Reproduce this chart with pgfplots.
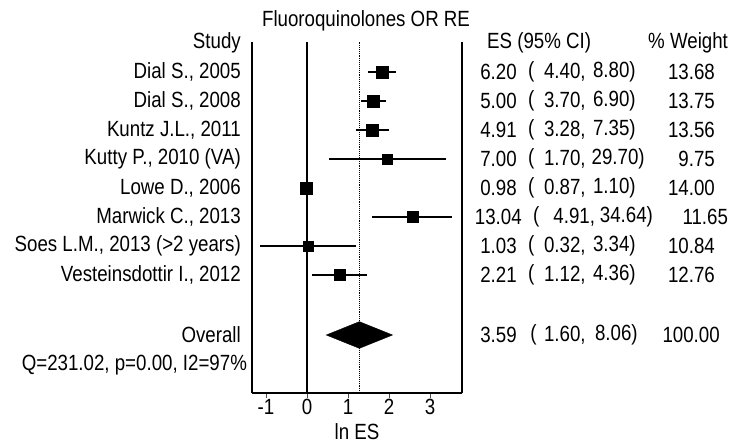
\documentclass[border=0pt]{standalone}
\usepackage{fontspec}
\setmainfont{Liberation Sans}[FakeStretch=0.85]
\usepackage{pgfplots}
\pgfplotsset{compat=1.18}
\usepackage{pgfplotstable}
\newcommand{\cf}{\fontsize{22bp}{25bp}\selectfont}

% row (negative), ln ES, minus, plus, weight
\pgfplotstableread{
r es em ep w
-1 1.825 0.343 0.350 13.68
-2 1.609 0.301 0.323 13.75
-3 1.591 0.403 0.404 13.56
-4 1.946 1.415 1.445 9.75
-5 -0.020 0.119 0.115 14.00
-6 2.568 0.977 0.977 11.65
-7 0.030 1.169 1.176 10.84
-8 0.793 0.680 0.679 12.76
}\studies

\begin{document}
\begin{tikzpicture}
\begin{axis}[
  scale only axis, width=210bp, height=351bp,
  xmin=-1.341, xmax=3.780, ymin=-12.07, ymax=0.034,
  axis x line*=bottom, axis y line*=box,
  axis line style={line width=1.8bp, black},
  ytick=\empty,
  xtick={-1,0,1,2,3},
  tick align=outside, major tick length=5bp,
  x tick style={black!70, line width=0.8bp},
  ticklabel style={font=\cf},
  /pgf/number format/assume math mode=true,
  xticklabel style={inner sep=1bp, yshift=0bp},
  xlabel={ln ES},
  xlabel style={font=\cf, inner sep=0pt, at={(axis description cs:0.5,0)}, anchor=center, yshift=-38.5bp},
  clip=false,
]
% reference lines
\addplot[black, line width=1.2bp] coordinates {(0,-12.07) (0,0.034)};
\addplot[black, line width=0.9bp, densely dotted] coordinates {(1.278,-12.07) (1.278,0.034)};
% studies
\addplot[scatter, only marks, mark=square*,
  scatter/use mapped color={draw=black, fill=black},
  visualization depends on={1.6*sqrt(\thisrow{w}) \as \msize},
  scatter/@pre marker code/.append style={/tikz/mark size=\msize bp},
  error bars/.cd, x dir=both, x explicit,
  error mark=none,
  error bar style={line width=1.8bp, black}]
  table[x=es, y=r, x error minus=em, x error plus=ep] {\studies};
% overall diamond
\addplot[fill=black, draw=black] coordinates {(0.470,-10.07) (1.278,-9.61) (2.087,-10.07) (1.278,-10.53)} -- cycle;

% title
\node[font=\cf] at (axis cs:1.44,0.76) {Fluoroquinolones OR RE};
% left labels
\begin{scope}[every node/.style={font=\cf, anchor=east, inner sep=0pt}]
\node at (axis cs:-1.61,0) {Study};
\node at (axis cs:-1.61,-1) {Dial S., 2005};
\node at (axis cs:-1.61,-2) {Dial S., 2008};
\node at (axis cs:-1.61,-3) {Kuntz J.L., 2011};
\node at (axis cs:-1.61,-4) {Kutty P., 2010 (VA)};
\node at (axis cs:-1.61,-5) {Lowe D., 2006};
\node at (axis cs:-1.61,-6) {Marwick C., 2013};
\node at (axis cs:-1.61,-7) {Soes L.M., 2013 (>2 years)};
\node at (axis cs:-1.61,-8) {Vesteinsdottir I., 2012};
\node at (axis cs:-1.61,-10.07) {Overall};
\node at (axis cs:-1.46,-11.1) {Q=231.02, p=0.00, I2=97\%};
\end{scope}
% right columns
\begin{scope}[every node/.style={font=\cf, inner sep=0pt}]
\node[anchor=west] at (axis cs:4.39,0) {ES (95\% CI)};
\node[anchor=east] at (axis cs:10.27,0) {\% Weight};
\end{scope}
\begin{scope}[every node/.style={font=\cf, inner sep=0pt}]
% row 1
\node[anchor=east] at (axis cs:5.12,-1) {6.20};
\node[anchor=west] at (axis cs:5.39,-1) {(};
\node[anchor=east] at (axis cs:6.80,-1) {4.40,};
\node[anchor=east] at (axis cs:8.02,-1) {8.80)};
\node[anchor=east] at (axis cs:9.95,-1) {13.68};
% row 2
\node[anchor=east] at (axis cs:5.12,-2) {5.00};
\node[anchor=west] at (axis cs:5.39,-2) {(};
\node[anchor=east] at (axis cs:6.80,-2) {3.70,};
\node[anchor=east] at (axis cs:8.02,-2) {6.90)};
\node[anchor=east] at (axis cs:9.95,-2) {13.75};
% row 3
\node[anchor=east] at (axis cs:5.12,-3) {4.91};
\node[anchor=west] at (axis cs:5.39,-3) {(};
\node[anchor=east] at (axis cs:6.80,-3) {3.28,};
\node[anchor=east] at (axis cs:8.02,-3) {7.35)};
\node[anchor=east] at (axis cs:9.95,-3) {13.56};
% row 4
\node[anchor=east] at (axis cs:5.12,-4) {7.00};
\node[anchor=west] at (axis cs:5.39,-4) {(};
\node[anchor=east] at (axis cs:6.80,-4) {1.70,};
\node[anchor=east] at (axis cs:8.24,-4) {29.70)};
\node[anchor=east] at (axis cs:9.95,-4) {9.75};
% row 5
\node[anchor=east] at (axis cs:5.12,-5) {0.98};
\node[anchor=west] at (axis cs:5.39,-5) {(};
\node[anchor=east] at (axis cs:6.80,-5) {0.87,};
\node[anchor=east] at (axis cs:8.02,-5) {1.10)};
\node[anchor=east] at (axis cs:9.95,-5) {14.00};
% row 6
\node[anchor=east] at (axis cs:5.24,-6) {13.04};
\node[anchor=west] at (axis cs:5.51,-6) {(};
\node[anchor=east] at (axis cs:7.03,-6) {4.91,};
\node[anchor=east] at (axis cs:8.44,-6) {34.64)};
\node[anchor=east] at (axis cs:10.27,-6) {11.65};
% row 7
\node[anchor=east] at (axis cs:5.12,-7) {1.03};
\node[anchor=west] at (axis cs:5.39,-7) {(};
\node[anchor=east] at (axis cs:6.80,-7) {0.32,};
\node[anchor=east] at (axis cs:8.02,-7) {3.34)};
\node[anchor=east] at (axis cs:9.95,-7) {10.84};
% row 8
\node[anchor=east] at (axis cs:5.12,-8) {2.21};
\node[anchor=west] at (axis cs:5.39,-8) {(};
\node[anchor=east] at (axis cs:6.80,-8) {1.12,};
\node[anchor=east] at (axis cs:8.02,-8) {4.36)};
\node[anchor=east] at (axis cs:9.95,-8) {12.76};
% overall
\node[anchor=east] at (axis cs:5.12,-10.07) {3.59};
\node[anchor=west] at (axis cs:5.44,-10.07) {(};
\node[anchor=east] at (axis cs:6.80,-10.07) {1.60,};
\node[anchor=east] at (axis cs:8.07,-10.07) {8.06)};
\node[anchor=east] at (axis cs:10.07,-10.07) {100.00};
\end{scope}
\end{axis}
\pgfresetboundingbox
\path[use as bounding box] (current axis.south west) ++(-252bp,-50bp) rectangle ++(735bp,443bp);
\end{tikzpicture}
\end{document}
